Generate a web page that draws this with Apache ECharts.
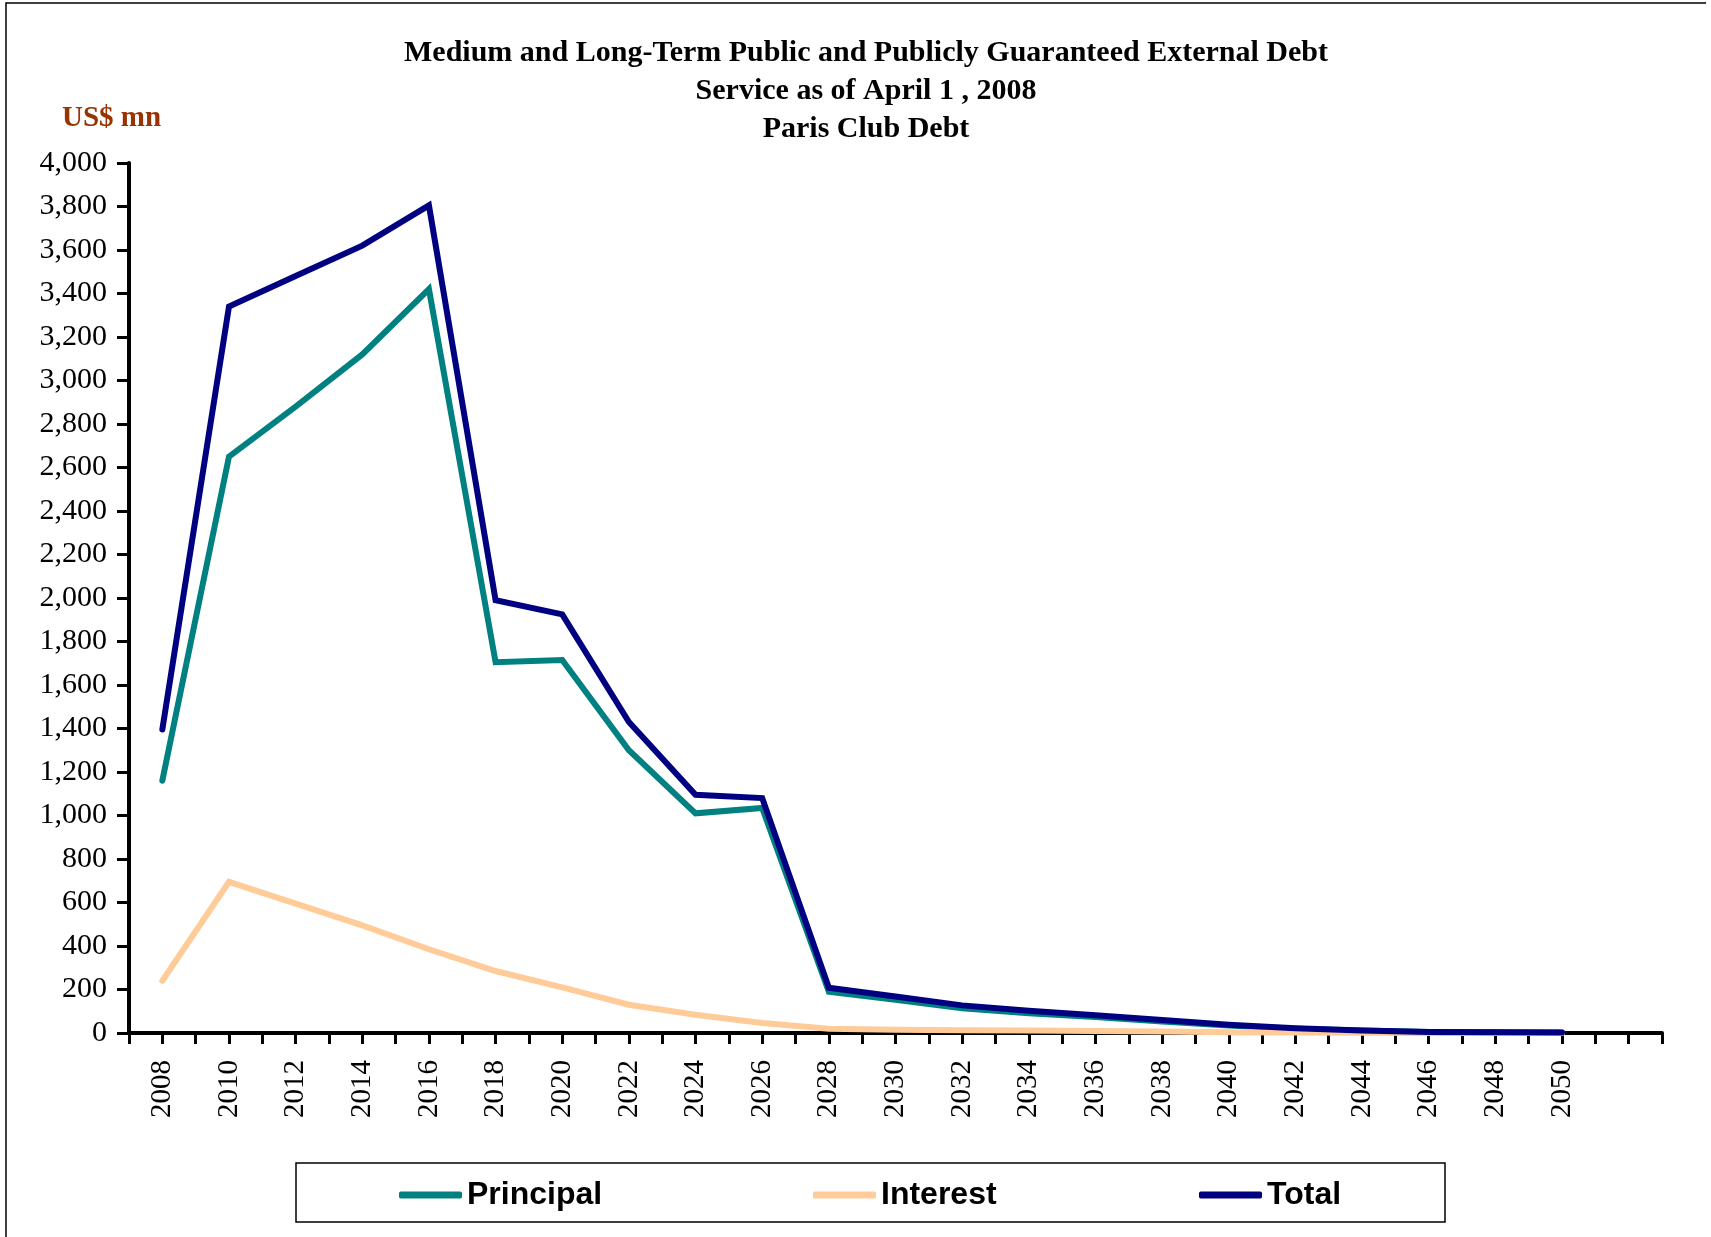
<!DOCTYPE html>
<html>
<head>
<meta charset="utf-8">
<title>Paris Club Debt Service</title>
<script src="https://cdn.jsdelivr.net/npm/echarts@6/dist/echarts.min.js"></script>
<style>
  html, body { margin: 0; padding: 0; background: #ffffff; }
  #chart { width: 1711px; height: 1237px; }
</style>
</head>
<body>
<div id="chart"></div>
<script>
// Debt service schedule (US$ mn), biennial points
const years = [2008, 2010, 2012, 2014, 2016, 2018, 2020, 2022, 2024, 2026, 2028,
               2030, 2032, 2034, 2036, 2038, 2040, 2042, 2044, 2046, 2048, 2050];
const principal = [1160, 2650, 2880, 3120, 3420, 1705, 1715, 1300, 1010, 1035, 190,
                   153, 114, 91, 73, 53, 34, 20, 11, 5, 3, 2];
const interest = [240, 695, 595, 495, 385, 285, 210, 130, 84, 46, 20,
                  15, 13, 11, 9, 7, 4, 2, 1, 0, 0, 0];
const total = [1395, 3340, 3480, 3620, 3805, 1990, 1925, 1430, 1095, 1080, 208,
               168, 127, 102, 82, 60, 38, 22, 12, 5, 3, 2];

const titleLines = [
  'Medium and Long-Term Public and Publicly Guaranteed External Debt',
  'Service as of April 1 , 2008',
  'Paris Club Debt'
];
const unitLabel = 'US$ mn';
const seriesNames = ['Principal', 'Interest', 'Total'];
const seriesColors = ['#008080', '#FFCC99', '#000080'];

const serif = '"Liberation Serif", "Times New Roman", serif';
const sans = '"Liberation Sans", Arial, sans-serif';

const pairs = (vals) => years.map((y, i) => [y, vals[i]]);

const chart = echarts.init(document.getElementById('chart'), null, { renderer: 'canvas' });

const legendLefts = [399, 813, 1199];

chart.setOption({
  animation: false,
  backgroundColor: '#ffffff',
  title: {
    text: titleLines.join('\n'),
    left: 861,
    top: 29,
    textAlign: 'center',
    textStyle: {
      fontFamily: serif,
      fontWeight: 'bold',
      fontSize: 30,
      lineHeight: 38,
      color: '#000000'
    }
  },
  graphic: [
    {
      // frame along the left and top edges
      type: 'polyline',
      silent: true,
      shape: { points: [[6, 1240], [6, 3], [1706, 3]] },
      style: { fill: 'none', stroke: '#000000', lineWidth: 1.5 }
    },
    {
      type: 'text',
      silent: true,
      left: 62,
      top: 104,
      style: {
        text: unitLabel,
        fontFamily: serif,
        fontWeight: 'bold',
        fontSize: 29,
        fill: '#993300'
      }
    },
    {
      type: 'rect',
      silent: true,
      shape: { x: 296, y: 1163, width: 1149, height: 59 },
      style: { fill: 'none', stroke: '#000000', lineWidth: 1.5 }
    }
  ],
  legend: seriesNames.map((name, i) => ({
    data: [name],
    left: legendLefts[i],
    top: 1179,
    padding: 0,
    orient: 'horizontal',
    icon: 'roundRect',
    itemWidth: 63,
    itemHeight: 7,
    itemGap: 5,
    selectedMode: false,
    textStyle: {
      fontFamily: sans,
      fontWeight: 'bold',
      fontSize: 32,
      color: '#000000',
      padding: [0, 0, 0, 0]
    }
  })),
  grid: {
    left: 129,
    right: 49,
    top: 163,
    bottom: 204,
    containLabel: false
  },
  xAxis: {
    type: 'value',
    min: 2007,
    max: 2053,
    interval: 1,
    splitLine: { show: false },
    axisLine: { show: true, onZero: false, lineStyle: { color: '#000000', width: 4 } },
    axisTick: { show: true, inside: false, length: 11, lineStyle: { color: '#000000', width: 3 } },
    axisLabel: {
      show: true,
      rotate: 90,
      margin: 27,
      showMinLabel: true,
      showMaxLabel: true,
      fontFamily: serif,
      fontSize: 29,
      color: '#000000',
      formatter: (v) => (years.indexOf(v) >= 0 ? String(v) : '')
    }
  },
  yAxis: {
    type: 'value',
    min: 0,
    max: 4000,
    interval: 200,
    splitLine: { show: false },
    axisLine: { show: true, lineStyle: { color: '#000000', width: 4 } },
    axisTick: { show: true, inside: false, length: 12, lineStyle: { color: '#000000', width: 3 } },
    axisLabel: {
      margin: 22,
      fontFamily: serif,
      fontSize: 30,
      color: '#000000',
      formatter: (v) => v.toLocaleString('en-US')
    }
  },
  series: [
    { name: seriesNames[0], values: principal },
    { name: seriesNames[1], values: interest },
    { name: seriesNames[2], values: total }
  ].map((s, i) => ({
    name: s.name,
    type: 'line',
    data: pairs(s.values),
    symbol: 'none',
    showSymbol: false,
    z: 2 + i,
    color: seriesColors[i],
    lineStyle: { color: seriesColors[i], width: 6, cap: 'round', join: 'miter' }
  }))
});
</script>
</body>
</html>
